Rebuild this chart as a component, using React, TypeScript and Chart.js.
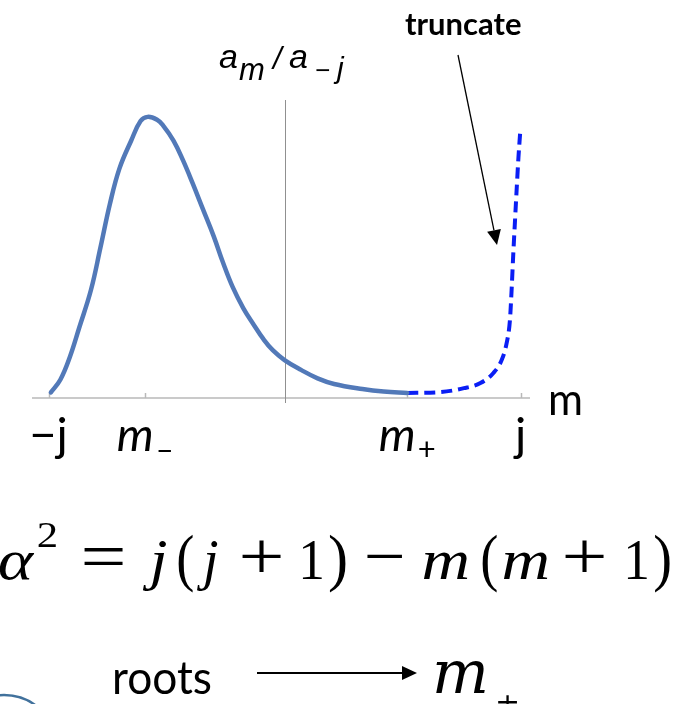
import { useEffect, useRef } from 'react';
import { Chart, registerables } from 'chart.js';

Chart.register(...registerables);

const W = 679;
const H = 704;

// a_m / a_{-j} as a function of m, from -j up to the root m_+
const solidM = [-9.9, -9.5, -9.1, -8.7, -8.2, -7.8, -7.4, -7.0, -6.5, -6.1, -5.8, -5.4, -5.15, -4.7, -4.3, -3.9, -3.45, -3.0, -2.6, -2.2, -1.75, -1.3, -0.9, -0.5, 0.0, 0.7, 1.4, 2.1, 3.3, 4.2, 5.2];
const solidA = [0.02, 0.065, 0.145, 0.25, 0.385, 0.535, 0.69, 0.815, 0.915, 0.985, 1.0, 0.99, 0.97, 0.915, 0.845, 0.765, 0.67, 0.575, 0.48, 0.395, 0.32, 0.26, 0.21, 0.17, 0.135, 0.1, 0.07, 0.05, 0.032, 0.023, 0.018];

// continuation past m_+, which blows up near j unless truncated
const truncM = [5.2, 6.6, 7.6, 8.3, 8.85, 9.2, 9.41, 9.55, 9.62, 9.69, 9.77, 9.84, 9.91, 9.98];
const truncA = [0.018, 0.021, 0.035, 0.053, 0.089, 0.135, 0.195, 0.277, 0.383, 0.51, 0.64, 0.75, 0.855, 0.94];

// axis extent (j = 10)
const xAxisMin = -10.7;
const xAxisMax = 10.4;
const yAxisMax = 1.06;

// marked positions on the m axis
const tickValues = [-10, -5.9, 5.2, 10];
const tickMain = ['\u2212j', 'm', 'm', 'j'];
const tickSub = ['', '\u2013', '+', ''];
const tickItalic = [false, true, true, false];

// relation below the plot: glyphs, style and horizontal extent of each
const eqText = ['\u03b1', '2', '=', 'j', '(', 'j', '+', '1', ')', '\u2212', 'm', '(', 'm', '+', '1', ')'];
const eqKind = ['i', 's', 'o', 'i', 'p', 'i', 'o', 'r', 'p', 'o', 'i', 'p', 'i', 'o', 'r', 'p'];
const eqLeft = [-1, 38, 83, 143, 178, 197, 242, 302, 330, 367, 419, 482, 500, 565, 627, 655];
const eqRight = [35, 57, 125, 167, 193, 218, 282, 322, 346, 403, 473, 497, 552, 605, 647, 670];

const toPoints = (xs: number[], ys: number[]) => xs.map((v, i) => ({ x: v, y: ys[i] }));

function line(ctx: CanvasRenderingContext2D, x1: number, y1: number, x2: number, y2: number) {
  ctx.beginPath();
  ctx.moveTo(x1, y1);
  ctx.lineTo(x2, y2);
  ctx.stroke();
}

function arrow(ctx: CanvasRenderingContext2D, x1: number, y1: number, x2: number, y2: number, head: number, half: number, width: number) {
  const ang = Math.atan2(y2 - y1, x2 - x1);
  const bx = x2 - head * Math.cos(ang);
  const by = y2 - head * Math.sin(ang);
  ctx.lineWidth = width;
  line(ctx, x1, y1, bx, by);
  ctx.beginPath();
  ctx.moveTo(x2, y2);
  ctx.lineTo(bx + half * Math.sin(ang), by - half * Math.cos(ang));
  ctx.lineTo(bx - half * Math.sin(ang), by + half * Math.cos(ang));
  ctx.closePath();
  ctx.fill();
}

// draws a glyph with its ink centred in [left, right], widened or narrowed a little to fill it
function fitGlyph(ctx: CanvasRenderingContext2D, text: string, font: string, left: number, right: number, baseline: number) {
  ctx.font = font;
  const m = ctx.measureText(text);
  const inkW = m.actualBoundingBoxLeft + m.actualBoundingBoxRight;
  let sx = inkW > 0 ? (right - left) / inkW : 1;
  sx = Math.max(0.85, Math.min(1.2, sx));
  const cx = (left + right) / 2;
  ctx.save();
  ctx.translate(cx, baseline);
  ctx.scale(sx, 1);
  ctx.textAlign = 'left';
  ctx.fillText(text, -inkW / 2 + m.actualBoundingBoxLeft, 0);
  ctx.restore();
}

const figurePlugin = {
  id: 'figureParts',
  beforeDraw(chart: Chart) {
    const { ctx } = chart;
    ctx.save();
    ctx.fillStyle = '#ffffff';
    ctx.fillRect(0, 0, chart.width, chart.height);
    ctx.restore();
  },
  beforeDatasetsDraw(chart: Chart) {
    const { ctx, chartArea } = chart;
    const xs = chart.scales.x;
    const ys = chart.scales.y;
    const y0 = ys.getPixelForValue(0);
    const x0 = xs.getPixelForValue(0);
    ctx.save();
    ctx.strokeStyle = '#b9b9b9';
    ctx.lineWidth = 1.5;
    line(ctx, chartArea.left, y0, chartArea.right, y0);
    tickValues.forEach((v) => {
      const px = Math.round(xs.getPixelForValue(v)) + 0.5;
      line(ctx, px, y0 - 5, px, y0);
    });
    ctx.strokeStyle = '#909090';
    ctx.lineWidth = 1;
    line(ctx, Math.round(x0) + 0.5, chartArea.top, Math.round(x0) + 0.5, y0 + 5);
    ctx.restore();
  },
  afterDraw(chart: Chart) {
    const { ctx, chartArea } = chart;
    const xs = chart.scales.x;
    const ys = chart.scales.y;
    const y0 = ys.getPixelForValue(0);
    ctx.save();
    ctx.fillStyle = '#000000';
    ctx.strokeStyle = '#000000';
    ctx.textBaseline = 'alphabetic';
    ctx.textAlign = 'left';

    // tick labels on the m axis
    tickValues.forEach((v, i) => {
      const px = xs.getPixelForValue(v);
      const mainFont = `${tickItalic[i] ? 'italic ' : ''}47px Lato`;
      const subFont = '31px Lato';
      ctx.font = mainFont;
      const wm = ctx.measureText(tickMain[i]).width;
      ctx.font = subFont;
      const wsub = tickSub[i] ? ctx.measureText(tickSub[i]).width + 2 : 0;
      const start = px - (wm + wsub) / 2;
      ctx.font = mainFont;
      ctx.fillText(tickMain[i], start, y0 + 53);
      if (tickSub[i]) {
        ctx.font = subFont;
        ctx.fillText(tickSub[i], start + wm + 2, y0 + 62);
      }
    });

    // axis name
    ctx.font = '44px Lato';
    ctx.fillText('m', chartArea.right + 18, y0 + 17, 35);

    // vertical axis title a_m / a_{-j}
    ctx.font = 'italic 34px "Liberation Sans"';
    ctx.fillText('a', 219, 68);
    ctx.font = 'italic 31px "Liberation Sans"';
    ctx.fillText('m', 239, 80);
    ctx.font = 'italic 31px "Liberation Sans"';
    ctx.fillText('/', 273, 69);
    ctx.font = 'italic 34px "Liberation Sans"';
    ctx.fillText('a', 289, 68);
    ctx.font = 'italic 26px "Liberation Sans"';
    ctx.fillText('\u2212', 315, 79);
    ctx.font = 'italic 30px "Liberation Sans"';
    ctx.fillText('j', 337, 78);

    // truncate annotation
    ctx.font = 'bold 31px Lato';
    ctx.fillText('truncate', 405, 35, 138);
    arrow(ctx, 458, 55, 497, 245, 15, 7, 1.3);

    // relation for alpha^2
    eqText.forEach((t, i) => {
      const k = eqKind[i];
      let font = '56px "Liberation Serif"';
      let base = 579;
      if (k === 'i') font = 'italic 56px "Liberation Serif"';
      if (k === 'p') font = '64px "Liberation Serif"';
      if (k === 'o') font = '68px "Liberation Serif"';
      if (k === 's') {
        font = '36px "Liberation Serif"';
        base = 547;
      }
      fitGlyph(ctx, t, font, eqLeft[i], eqRight[i], base);
    });

    // roots -> m_pm
    ctx.font = '46px Lato';
    ctx.fillText('roots', 112, 694, 100);
    arrow(ctx, 257, 673, 417, 673, 15, 7, 2);
    ctx.font = 'italic 60px "DejaVu Serif"';
    ctx.fillText('m', 432, 693, 62);
    ctx.font = '30px "DejaVu Serif"';
    ctx.fillText('\u00b1', 495, 714);

    // circle outline in the corner
    ctx.strokeStyle = '#41719c';
    ctx.lineWidth = 2.5;
    ctx.beginPath();
    ctx.arc(4, 748, 53, Math.PI, Math.PI * 2);
    ctx.stroke();
    ctx.restore();
  },
};

export default function App() {
  const canvasRef = useRef<HTMLCanvasElement | null>(null);

  useEffect(() => {
    document.body.style.margin = '0';
    const canvas = canvasRef.current;
    if (!canvas) return;
    const chart = new Chart(canvas, {
      type: 'scatter',
      data: {
        datasets: [
          {
            label: 'a_m/a_-j',
            data: toPoints(solidM, solidA),
            showLine: true,
            borderColor: '#5279b8',
            borderWidth: 4.5,
            pointRadius: 0,
            tension: 0.4,
            borderCapStyle: 'round',
            borderJoinStyle: 'round',
            clip: false,
          },
          {
            label: 'truncated',
            data: toPoints(truncM, truncA),
            showLine: true,
            borderColor: '#0a1ef5',
            borderWidth: 4,
            borderDash: [11, 6],
            pointRadius: 0,
            cubicInterpolationMode: 'monotone',
            clip: false,
          },
        ],
      },
      options: {
        responsive: false,
        animation: false,
        events: [],
        layout: { padding: { left: 32, right: 149, top: 100, bottom: 306 } },
        scales: {
          x: { type: 'linear', min: xAxisMin, max: xAxisMax, display: false },
          y: { type: 'linear', min: 0, max: yAxisMax, display: false },
        },
        plugins: {
          legend: { display: false },
          tooltip: { enabled: false },
          title: { display: false },
        },
      },
      plugins: [figurePlugin],
    });
    return () => chart.destroy();
  }, []);

  return (
    <div style={{ position: 'fixed', left: 0, top: 0, width: W, height: H }}>
      <canvas ref={canvasRef} width={W} height={H} style={{ width: W, height: H, display: 'block' }} />
    </div>
  );
}
